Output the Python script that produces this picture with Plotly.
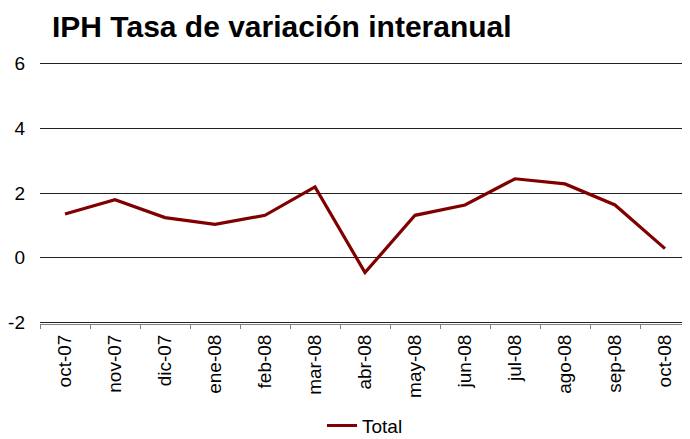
import plotly.graph_objects as go

categories = ["oct-07", "nov-07", "dic-07", "ene-08", "feb-08", "mar-08", "abr-08",
              "may-08", "jun-08", "jul-08", "ago-08", "sep-08", "oct-08"]
total = [1.35, 1.79, 1.24, 1.03, 1.31, 2.19, -0.46, 1.31, 1.63, 2.44, 2.28, 1.63, 0.28]
y_ticks = [-2, 0, 2, 4, 6]
y_tick_labels = ["-2", "0", "2", "4", "6"]

FONT = "Liberation Sans, Arial, sans-serif"

# page has an 8px body margin, so the figure is sized to fill the rest of the window
W, H = 682, 431

fig = go.Figure()
fig.add_trace(go.Scatter(
    x=categories, y=total, mode="lines", name="Total",
    line=dict(color="#800000", width=3.2),
))

fig.update_layout(
    width=W, height=H,
    margin=dict(l=32, r=0, t=53.9, b=115.4, autoexpand=False),
    paper_bgcolor="white", plot_bgcolor="white",
    font=dict(family=FONT, size=19, color="black"),
    title=dict(text="<b>IPH Tasa de variación interanual</b>",
               font=dict(family=FONT, size=30, color="black"),
               xref="container", x=44/W, xanchor="left",
               yref="container", y=1 - 8/H, yanchor="top"),
    showlegend=True,
    legend=dict(orientation="h", x=0.5, xanchor="center",
                y=-0.388, yanchor="middle", font=dict(size=19)),
)

fig.update_xaxes(
    type="category", tickangle=-90, range=[-0.5, len(categories) - 0.5],
    showgrid=False, showline=True, linecolor="#808080", linewidth=1,
    ticks="outside", tickson="boundaries", ticklen=4, tickcolor="#808080",
    tickfont=dict(size=19), zeroline=False, ticklabelstandoff=2,
    automargin=False,
)
fig.update_yaxes(
    range=[-2.05, 6.05], tickvals=y_ticks, ticktext=y_tick_labels,
    showgrid=True, gridcolor="#202020", gridwidth=1,
    zeroline=False, showline=False, ticks="",
    tickfont=dict(size=19), ticklabelstandoff=14, automargin=False,
)

fig.write_html("out.html")
